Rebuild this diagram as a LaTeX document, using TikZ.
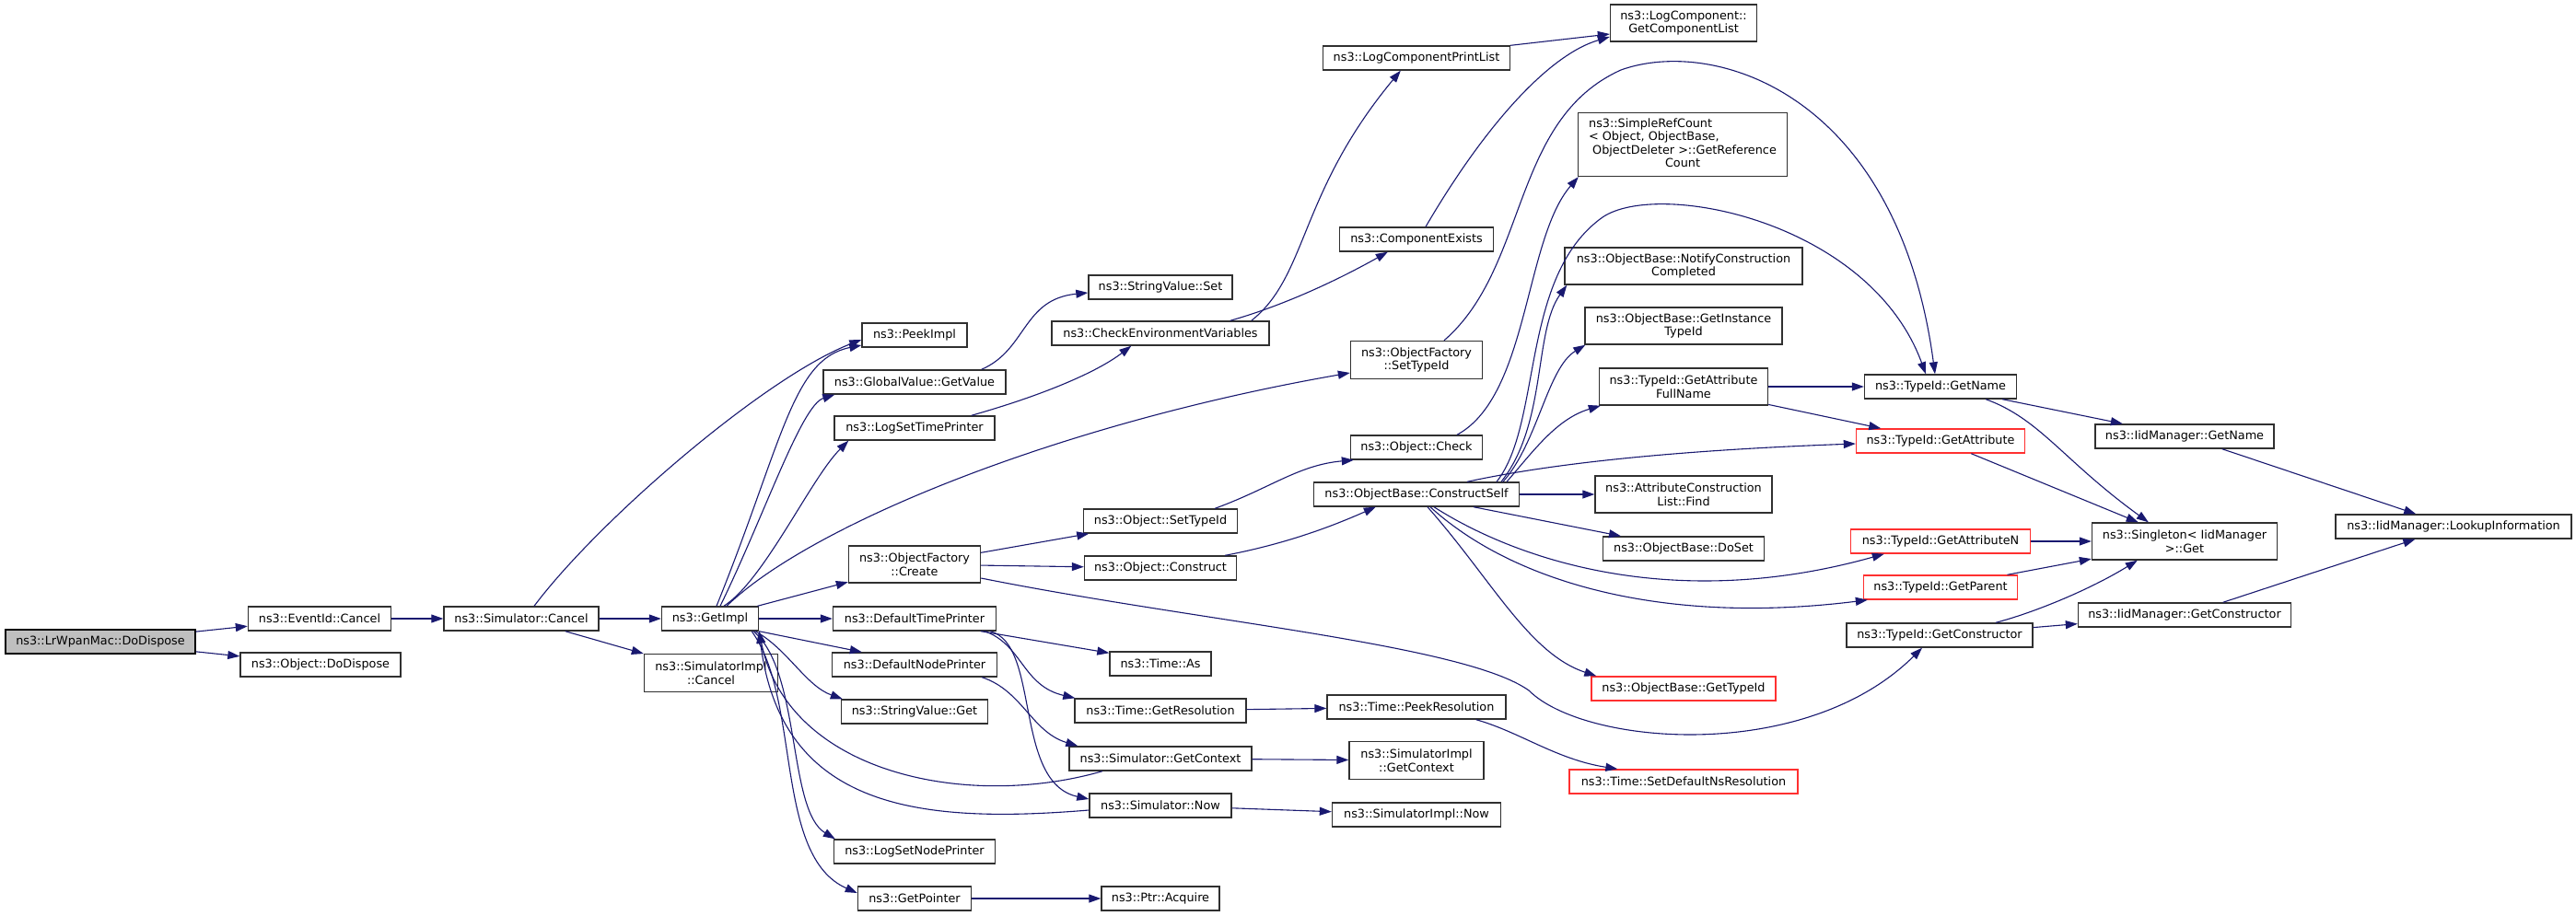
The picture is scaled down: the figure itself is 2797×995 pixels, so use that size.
\documentclass[tikz,border=0pt]{standalone}
\usepackage{fontspec}
\setmainfont{DejaVu Sans}
\usetikzlibrary{arrows.meta}
\definecolor{edgeblue}{HTML}{191970}
\definecolor{nodered}{HTML}{FF3030}
\definecolor{nodeline}{HTML}{303030}
\definecolor{rootfill}{HTML}{BFBFBF}
\tikzset{
  nbox/.style={draw=nodeline, line width=1.4pt, fill=white, inner sep=0pt, minimum height=26pt, align=center, font=\fontsize{12.8pt}{14.5pt}\selectfont, text=black},
  rbox/.style={nbox, draw=nodered},
  rootbox/.style={nbox, fill=rootfill, draw=black},
  callarrow/.style={draw=edgeblue, line width=1.1pt, -{Triangle[length=13pt,width=9pt]}},
}
\begin{document}
\begin{tikzpicture}[x=1pt,y=-1pt]
\fill[white] (0,0) rectangle (2797,995);
\useasboundingbox (0,0) rectangle (2797,995);

% column 1-4
\node[rootbox, minimum width=206pt] (root) at (109,697) {ns3::LrWpanMac::DoDispose};
\node[nbox, minimum width=155pt] (evcancel) at (347,672) {ns3::EventId::Cancel};
\node[nbox, minimum width=174pt] (objdispose) at (348,722) {ns3::Object::DoDispose};
\node[nbox, minimum width=168pt] (simcancel) at (566,672) {ns3::Simulator::Cancel};
\node[nbox, minimum width=105pt] (getimpl) at (771,672) {ns3::GetImpl};
\node[nbox, minimum width=145pt, minimum height=41pt] (simimplcancel) at (772,731) {ns3::SimulatorImpl\\::Cancel};

% column 5
\node[nbox, minimum width=114pt] (peekimpl) at (993,364) {ns3::PeekImpl};
\node[nbox, minimum width=198pt] (gvget) at (993,415) {ns3::GlobalValue::GetValue};
\node[nbox, minimum width=174pt] (logsettime) at (993,465) {ns3::LogSetTimePrinter};
\node[nbox, minimum width=143pt, minimum height=40pt] (ofcreate) at (993,613) {ns3::ObjectFactory\\::Create};
\node[nbox, minimum width=177pt] (deftime) at (993,672) {ns3::DefaultTimePrinter};
\node[nbox, minimum width=179pt] (defnode) at (993,722) {ns3::DefaultNodePrinter};
\node[nbox, minimum width=159pt] (svget) at (993,773) {ns3::StringValue::Get};
\node[nbox, minimum width=175pt] (logsetnode) at (993,925) {ns3::LogSetNodePrinter};
\node[nbox, minimum width=123pt] (getpointer) at (993,976) {ns3::GetPointer};

% column 6
\node[nbox, minimum width=156pt] (svset) at (1260,312) {ns3::StringValue::Set};
\node[nbox, minimum width=236pt] (checkenv) at (1260,362) {ns3::CheckEnvironmentVariables};
\node[nbox, minimum width=167pt] (objsettypeid) at (1260,566) {ns3::Object::SetTypeId};
\node[nbox, minimum width=165pt] (objconstruct) at (1260,617) {ns3::Object::Construct};
\node[nbox, minimum width=110pt] (timeas) at (1260,721) {ns3::Time::As};
\node[nbox, minimum width=186pt] (getres) at (1260,772) {ns3::Time::GetResolution};
\node[nbox, minimum width=198pt] (simctx) at (1260,824) {ns3::Simulator::GetContext};
\node[nbox, minimum width=154pt] (simnow) at (1260,875) {ns3::Simulator::Now};
\node[nbox, minimum width=128pt] (ptracq) at (1260,976) {ns3::Ptr::Acquire};

% column 7
\node[nbox, minimum width=203pt] (logprint) at (1538,63) {ns3::LogComponentPrintList};
\node[nbox, minimum width=167pt] (compexists) at (1538,260) {ns3::ComponentExists};
\node[nbox, minimum width=143pt, minimum height=41pt] (ofsettypeid) at (1538,391) {ns3::ObjectFactory\\::SetTypeId};
\node[nbox, minimum width=143pt] (objcheck) at (1538,486) {ns3::Object::Check};
\node[nbox, minimum width=223pt] (constructself) at (1538,537) {ns3::ObjectBase::ConstructSelf};
\node[nbox, minimum width=194pt] (peekres) at (1538,768) {ns3::Time::PeekResolution};
\node[nbox, minimum width=146pt, minimum height=41pt] (simimplctx) at (1538,826) {ns3::SimulatorImpl\\::GetContext};
\node[nbox, minimum width=183pt] (simimplnow) at (1538,885) {ns3::SimulatorImpl::Now};

% column 8
\node[nbox, minimum width=159pt, minimum height=40pt] (getcomplist) at (1828,25) {ns3::LogComponent::\\GetComponentList};
\node[nbox, minimum width=227pt, minimum height=69pt] (refcount) at (1827,157) {\begin{tabular}{@{}l@{}}ns3::SimpleRefCount\\< Object, ObjectBase,\\\ ObjectDeleter >::GetReference\\\multicolumn{1}{@{}c@{}}{Count}\end{tabular}};
\node[nbox, minimum width=258pt, minimum height=40pt] (notify) at (1828,289) {ns3::ObjectBase::NotifyConstruction\\Completed};
\node[nbox, minimum width=214pt, minimum height=40pt] (instancetid) at (1828,354) {ns3::ObjectBase::GetInstance\\TypeId};
\node[nbox, minimum width=183pt, minimum height=40pt] (attrfull) at (1828,420) {ns3::TypeId::GetAttribute\\FullName};
\node[nbox, minimum width=192pt, minimum height=40pt] (acfind) at (1828,537) {ns3::AttributeConstruction\\List::Find};
\node[nbox, minimum width=175pt] (doset) at (1828,596) {ns3::ObjectBase::DoSet};
\node[rbox, minimum width=200pt] (obgettid) at (1828,748) {ns3::ObjectBase::GetTypeId};
\node[rbox, minimum width=248pt] (setdefns) at (1828,849) {ns3::Time::SetDefaultNsResolution};

% column 9
\node[nbox, minimum width=165pt] (tidgetname) at (2107,420) {ns3::TypeId::GetName};
\node[rbox, minimum width=183pt] (tidgetattr) at (2107,479) {ns3::TypeId::GetAttribute};
\node[rbox, minimum width=195pt] (tidgetattrn) at (2107,588) {ns3::TypeId::GetAttributeN};
\node[rbox, minimum width=167pt] (tidgetparent) at (2107,638) {ns3::TypeId::GetParent};
\node[nbox, minimum width=202pt] (tidgetctor) at (2106,690) {ns3::TypeId::GetConstructor};

% column 10-11
\node[nbox, minimum width=194pt] (iidgetname) at (2372,474) {ns3::IidManager::GetName};
\node[nbox, minimum width=201pt, minimum height=40pt] (singleton) at (2372,588) {ns3::Singleton< IidManager\\>::Get};
\node[nbox, minimum width=231pt] (iidgetctor) at (2372,668) {ns3::IidManager::GetConstructor};
\node[nbox, minimum width=256pt] (lookup) at (2664,572) {ns3::IidManager::LookupInformation};

% edges
\draw[callarrow] (root) -- (evcancel);
\draw[callarrow] (root) -- (objdispose);
\draw[callarrow] (evcancel) -- (simcancel);
\draw[callarrow] (simcancel) -- (getimpl);
\draw[callarrow] (simcancel) -- (simimplcancel);
\draw[callarrow] ([shift={(14,0)}]simcancel.north) .. controls (650,565) and (830,410) .. ([shift={(0,5)}]peekimpl.west);
\draw[callarrow] ([shift={(7,0)}]getimpl.north) .. controls (850,480) and (860,390) .. ([shift={(0,11)}]peekimpl.west);
\draw[callarrow] ([shift={(11,0)}]getimpl.north) .. controls (830,560) and (870,440) .. ([shift={(13,0)}]gvget.south west);
\draw[callarrow] ([shift={(15,0)}]getimpl.north) .. controls (830,630) and (880,520) .. ([shift={(16,0)}]logsettime.south west);
\draw[callarrow] ([shift={(18,0)}]getimpl.north) .. controls (880,570) and (1150,460) .. ([shift={(0,14)}]ofsettypeid.west);
\draw[callarrow] (getimpl) -- (ofcreate);
\draw[callarrow] (getimpl) -- (deftime);
\draw[callarrow] (getimpl.south east) -- ([shift={(33,0)}]defnode.north west);
\draw[callarrow] ([shift={(-4,0)}]getimpl.south east) .. controls (855,705) and (875,745) .. ([shift={(2,0)}]svget.north west);
\draw[callarrow] ([shift={(-6,0)}]getimpl.south east) .. controls (870,730) and (855,880) .. ([shift={(2,0)}]logsetnode.north west);
\draw[callarrow] ([shift={(-8,0)}]getimpl.south east) .. controls (870,760) and (840,930) .. ([shift={(0,-6)}]getpointer.west);
\draw[callarrow] ([shift={(-63,0)}]simctx.south) .. controls (1050,880) and (855,840) .. (getimpl.south east);
\draw[callarrow] ([shift={(0,5)}]simnow.west) .. controls (1000,895) and (848,880) .. (getimpl.south east);

\draw[callarrow] ([shift={(-27,0)}]gvget.north east) .. controls (1115,380) and (1110,325) .. ([shift={(0,6)}]svset.west);
\draw[callarrow] ([shift={(-26,0)}]logsettime.north east) .. controls (1130,430) and (1190,405) .. ([shift={(87,0)}]checkenv.south west);
\draw[callarrow] ([shift={(-43,0)}]checkenv.north east) .. controls (1400,330) and (1460,300) .. ([shift={(53,0)}]compexists.south west);
\draw[callarrow] ([shift={(-20,0)}]checkenv.north east) .. controls (1420,300) and (1410,210) .. ([shift={(85,0)}]logprint.south west);
\draw[callarrow] ([shift={(10,0)}]compexists.north) .. controls (1610,140) and (1680,60) .. ([shift={(0,15)}]getcomplist.west);
\draw[callarrow] (logprint.north east) -- ([shift={(0,12)}]getcomplist.west);

\draw[callarrow] (ofcreate) -- (objsettypeid);
\draw[callarrow] (ofcreate) -- (objconstruct);
\draw[callarrow] ([shift={(0,15)}]ofcreate.east) .. controls (1300,675) and (1590,700) .. (1660,750) .. controls (1720,810) and (1960,830) .. ([shift={(-19,0)}]tidgetctor.south);
\draw[callarrow] ([shift={(-25,0)}]objsettypeid.north east) .. controls (1380,530) and (1410,505) .. ([shift={(4,0)}]objcheck.south west);
\draw[callarrow] ([shift={(-13,0)}]objconstruct.north east) .. controls (1400,590) and (1450,570) .. ([shift={(68,0)}]constructself.south west);
\draw[callarrow] ([shift={(44,0)}]objcheck.north) .. controls (1660,430) and (1655,260) .. ([shift={(1,0)}]refcount.south west);
\draw[callarrow] ([shift={(30,0)}]ofsettypeid.north) .. controls (1660,290) and (1640,130) .. (1760,76) .. controls (1860,40) and (2060,100) .. ([shift={(-6,0)}]tidgetname.north);
\draw[callarrow] ([shift={(87,0)}]constructself.north) .. controls (1675,460) and (1650,300) .. (1740,236) .. controls (1800,195) and (2030,240) .. ([shift={(-16,0)}]tidgetname.north);

\draw[callarrow] ([shift={(92,0)}]constructself.north) .. controls (1680,460) and (1665,360) .. ([shift={(3,0)}]notify.south west);
\draw[callarrow] ([shift={(94,0)}]constructself.north) .. controls (1670,480) and (1680,400) .. ([shift={(1,0)}]instancetid.south west);
\draw[callarrow] ([shift={(98,0)}]constructself.north) .. controls (1665,490) and (1690,455) .. ([shift={(2,0)}]attrfull.south west);
\draw[callarrow] ([shift={(55,0)}]constructself.north) .. controls (1700,500) and (1850,488) .. ([shift={(0,3)}]tidgetattr.west);
\draw[callarrow] (constructself) -- (acfind);
\draw[callarrow] ([shift={(62,0)}]constructself.south) -- ([shift={(-68,0)}]doset.north);
\draw[callarrow] ([shift={(19,0)}]constructself.south) .. controls (1650,610) and (1820,665) .. ([shift={(37,0)}]tidgetattrn.south west);
\draw[callarrow] ([shift={(15,0)}]constructself.south) .. controls (1640,630) and (1800,680) .. ([shift={(5,0)}]tidgetparent.south west);
\draw[callarrow] ([shift={(12,0)}]constructself.south) .. controls (1620,630) and (1660,710) .. ([shift={(6,0)}]obgettid.north west);

\draw[callarrow] (attrfull) -- (tidgetname);
\draw[callarrow] (attrfull) -- (tidgetattr);
\draw[callarrow] (tidgetname) -- (iidgetname);
\draw[callarrow] ([shift={(-34,0)}]tidgetname.south east) .. controls (2215,455) and (2240,500) .. ([shift={(62,0)}]singleton.north west);
\draw[callarrow] (tidgetattr) -- (singleton);
\draw[callarrow] (tidgetattrn) -- (singleton);
\draw[callarrow] (tidgetparent) -- (singleton);
\draw[callarrow] ([shift={(61,0)}]tidgetctor.north) .. controls (2210,665) and (2270,640) .. ([shift={(50,0)}]singleton.south west);
\draw[callarrow] (tidgetctor) -- (iidgetctor);
\draw[callarrow] (iidgetname) -- (lookup);
\draw[callarrow] (iidgetctor) -- (lookup);

\draw[callarrow] ([shift={(72,0)}]deftime.south) -- ([shift={(0,2)}]timeas.north west);
\draw[callarrow] ([shift={(-13,0)}]deftime.south east) .. controls (1110,700) and (1110,745) .. ([shift={(1,0)}]getres.north west);
\draw[callarrow] ([shift={(-7,0)}]deftime.south east) .. controls (1130,700) and (1100,850) .. ([shift={(0,-7)}]simnow.west);
\draw[callarrow] ([shift={(-17,0)}]defnode.south east) .. controls (1110,750) and (1120,795) .. ([shift={(10,0)}]simctx.north west);
\draw[callarrow] (getres) -- (peekres);
\draw[callarrow] ([shift={(-33,0)}]peekres.south east) .. controls (1650,795) and (1690,825) .. ([shift={(53,0)}]setdefns.north west);
\draw[callarrow] (simctx) -- (simimplctx);
\draw[callarrow] (simnow) -- (simimplnow);
\draw[callarrow] (getpointer) -- (ptracq);
\end{tikzpicture}
\end{document}
